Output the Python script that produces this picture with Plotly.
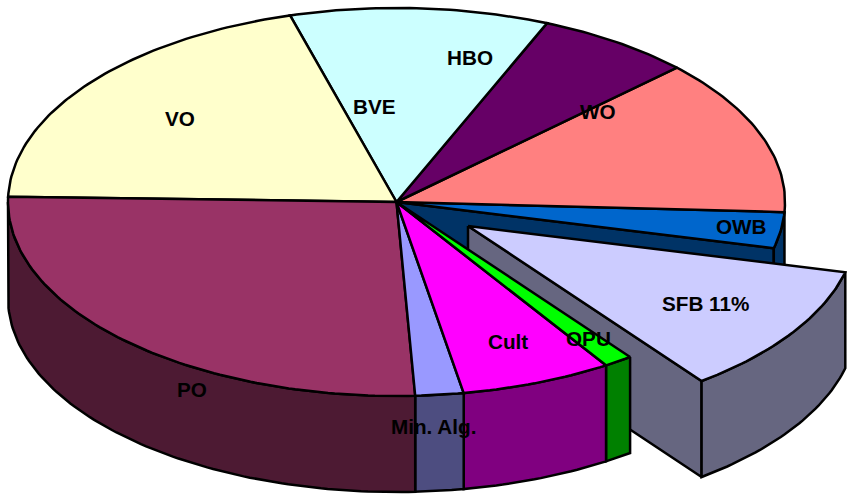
import math
import plotly.graph_objects as go

# Slices, clockwise from the WO/OWB boundary
categories = ["OWB", "SFB", "OPU", "Cult", "Min. Alg.", "PO", "VO", "BVE", "HBO", "WO"]
values = [3.0, 10.9, 1.2, 6.3, 2.0, 26.2, 20.15, 10.75, 6.5, 13.0]
top_colors = ["#0066CC", "#CCCCFF", "#00FF00", "#FF00FF", "#9999FF",
              "#993366", "#FFFFCC", "#CCFFFF", "#660066", "#FF8080"]
side_colors = ["#003366", "#666680", "#008000", "#800080", "#4D4D80",
               "#4D1A33", "#808066", "#668080", "#330033", "#804040"]

label_texts = ["VO", "BVE", "HBO", "WO", "OWB", "SFB 11%", "OPU", "Cult", "PO", "Min. Alg."]
label_x = [180, 374, 470, 598, 741, 705, 588, 508, 192, 433]
label_y = [118, 106, 57, 111, 226, 303, 338, 341, 389, 426]

# Projection of the pie
CX, CY, RX, RY, DEPTH = 396.5, 202, 388.5, 194, 96
OFFSET = (71.5, 24)
START = -3.0

# Slice angles from the values
total = sum(values)
angles = {}
a = START
for name, v in zip(categories, values):
    angles[name] = (a, a - v / total * 360)
    a -= v / total * 360


def pt(t, off=(0, 0), dz=0):
    r = math.radians(t)
    return CX + off[0] + RX * math.cos(r), CY + off[1] - RY * math.sin(r) + dz


def arc(t0, t1, off=(0, 0), dz=0):
    n = max(2, int(abs(t1 - t0)) + 2)
    return [pt(t0 + (t1 - t0) * i / (n - 1), off, dz) for i in range(n)]


fig = go.Figure()


def poly(points, color):
    xs = [p[0] for p in points] + [points[0][0]]
    ys = [p[1] for p in points] + [points[0][1]]
    fig.add_trace(go.Scatter(x=xs, y=ys, mode="lines", fill="toself", fillcolor=color,
                             line=dict(color="black", width=2.5, shape="linear"),
                             hoverinfo="skip", showlegend=False, cliponaxis=True))


def top(name, off=(0, 0)):
    i = categories.index(name)
    t0, t1 = angles[name]
    poly([(CX + off[0], CY + off[1])] + arc(t0, t1, off), top_colors[i])


def wall(name, off=(0, 0)):
    i = categories.index(name)
    t0, t1 = angles[name]
    # only the part of the rim facing the viewer
    a0, a1 = min(t0, -0.0), max(t1, -180.0)
    if a0 <= a1:
        return
    poly(arc(a0, a1, off) + arc(a1, a0, off, DEPTH), side_colors[i])


def cut(name, t, off=(0, 0)):
    i = categories.index(name)
    c0 = (CX + off[0], CY + off[1])
    c1 = (c0[0], c0[1] + DEPTH)
    poly([c0, pt(t, off), pt(t, off, DEPTH), c1], side_colors[i])


# Back to front
cut("OWB", angles["OWB"][1])
wall("OWB")
top("OWB")
cut("SFB", angles["SFB"][1], OFFSET)
wall("SFB", OFFSET)
top("SFB", OFFSET)
for name in ["OPU", "Cult", "Min. Alg.", "PO"]:
    wall(name)
for name in ["WO", "HBO", "BVE", "VO", "PO", "Min. Alg.", "Cult", "OPU"]:
    top(name)

for txt, x, y in zip(label_texts, label_x, label_y):
    fig.add_annotation(x=x, y=y, text="<b>" + txt + "</b>", showarrow=False,
                       xanchor="center", yanchor="middle",
                       font=dict(family="Liberation Sans", size=20.7, color="black"))

fig.update_layout(
    width=847, height=494, margin=dict(l=0, r=0, t=0, b=0),
    paper_bgcolor="white", plot_bgcolor="white", showlegend=False,
    xaxis=dict(range=[0, 847], visible=False, fixedrange=True),
    yaxis=dict(range=[494, 0], visible=False, fixedrange=True),
)
fig.write_html("out.html", config={"displayModeBar": False},
               post_script="document.body.style.margin='0';document.documentElement.style.overflow='hidden';")
